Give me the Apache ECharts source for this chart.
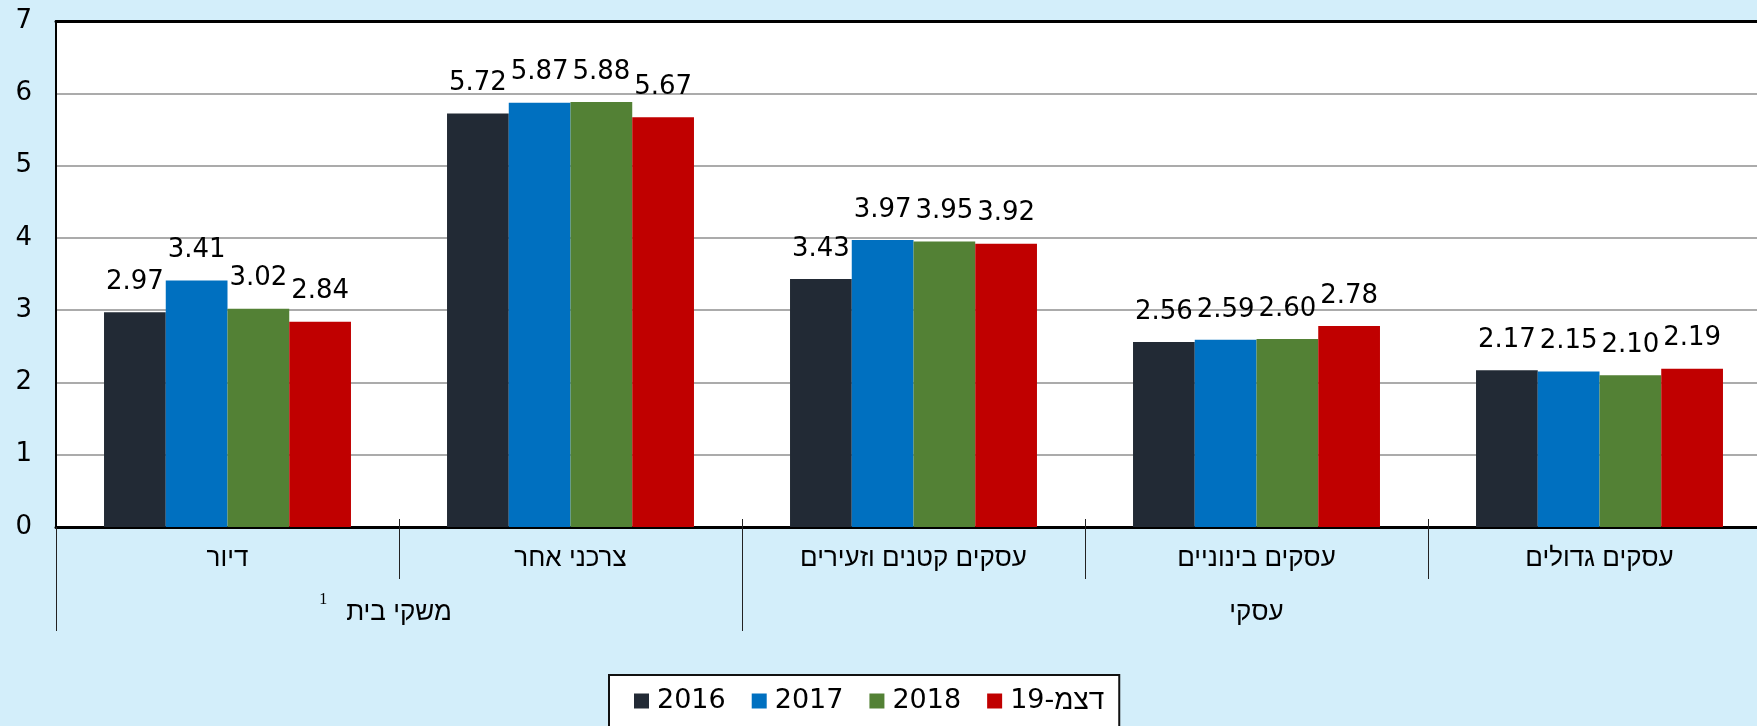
<!DOCTYPE html>
<html>
<head>
<meta charset="utf-8">
<script src="https://cdn.jsdelivr.net/npm/echarts@6/dist/echarts.min.js"></script>
<style>
  html, body { margin: 0; padding: 0; background: #d3eefa; }
  #chart { width: 1757px; height: 726px; }
</style>
</head>
<body>
<div id="chart"></div>
<script>
// ---- data ----
const categories = ['דיור', 'צרכני אחר', 'עסקים קטנים וזעירים', 'עסקים בינוניים', 'עסקים גדולים'];
const groupLabels = ['משקי בית', 'עסקי'];
const yTicks = [0, 1, 2, 3, 4, 5, 6, 7];
const seriesNames = ['2016', '2017', '2018', '19-דצמ'];
const values2016 = [2.97, 5.72, 3.43, 2.56, 2.17];
const values2017 = [3.41, 5.87, 3.97, 2.59, 2.15];
const values2018 = [3.02, 5.88, 3.95, 2.60, 2.10];
const valuesDec19 = [2.84, 5.67, 3.92, 2.78, 2.19];
const colors = ['#222a35', '#0070c0', '#538135', '#c00000'];

const allValues = [values2016, values2017, values2018, valuesDec19];
const numFont = 'DejaVu Sans';
const hebFont = 'Liberation Sans';

const chart = echarts.init(document.getElementById('chart'), null, { renderer: 'canvas' });

const series = seriesNames.map((name, i) => ({
  name: name,
  type: 'bar',
  xAxisIndex: 0,
  yAxisIndex: 0,
  data: allValues[i],
  barGap: '0%',
  barCategoryGap: '28%',
  itemStyle: { color: colors[i] },
  label: {
    show: true,
    position: 'top',
    distance: 17,
    formatter: p => p.value.toFixed(2),
    fontFamily: numFont,
    fontSize: 26,
    color: '#000'
  },
  emphasis: { disabled: true },
  silent: true
}));

const option = {
  backgroundColor: '#d3eefa',
  animation: false,
  grid: {
    left: 56, width: 1715, top: 21, bottom: 199,
    outerBoundsMode: 'none',
    containLabel: false,
    show: true, backgroundColor: '#ffffff', borderWidth: 0
  },
  legend: {
    data: seriesNames,
    left: 609,
    top: 675,
    orient: 'horizontal',
    backgroundColor: '#ffffff',
    borderColor: '#111',
    borderWidth: 2,
    padding: [12, 15, 30, 25],
    itemWidth: 15,
    itemHeight: 15,
    itemGap: 26,
    icon: 'rect',
    selectedMode: false,
    formatter: name => name === '19-דצמ' ? '{d|19-}{h|דצמ}' : '{d|' + name + '}',
    textStyle: {
      color: '#000',
      padding: [0, 0, 0, 3],
      rich: {
        d: { fontFamily: numFont, fontSize: 27, color: '#000' },
        h: { fontFamily: hebFont, fontSize: 28, color: '#000' }
      }
    }
  },
  xAxis: [
    {
      type: 'category',
      data: categories,
      position: 'bottom',
      axisLine: { show: true, lineStyle: { color: '#000', width: 3 } },
      axisTick: { show: true, length: 52, lineStyle: { color: '#222', width: 1 } },
      axisLabel: { margin: 19, fontFamily: hebFont, fontSize: 26, color: '#000' },
      splitLine: { show: false }
    },
    {
      type: 'value',
      min: 0, max: 5,
      position: 'bottom',
      axisLine: { show: false },
      axisTick: { show: true, length: 104, customValues: [0, 2, 5], lineStyle: { color: '#222', width: 1 } },
      axisLabel: {
        show: true,
        customValues: [1, 3.5],
        margin: 65,
        formatter: v => v === 1 ? '{sup|1}{g|' + groupLabels[0] + '}' : '{g2|' + groupLabels[1] + '}',
        rich: {
          sup: { fontFamily: 'Liberation Serif', fontSize: 16, lineHeight: 15, verticalAlign: 'top', color: '#000', padding: [0, 19, 0, 0] },
          g: { fontFamily: hebFont, fontSize: 26, lineHeight: 42, color: '#000', padding: [0, 27, 0, 0] },
          g2: { fontFamily: hebFont, fontSize: 26, lineHeight: 42, color: '#000' }
        }
      },
      splitLine: { show: false }
    },
    {
      type: 'value',
      min: 0, max: 5,
      position: 'bottom',
      axisLine: { show: false },
      axisTick: { show: true, inside: true, length: 8, customValues: [1, 2, 3, 4], lineStyle: { color: '#222', width: 1 } },
      axisLabel: { show: false },
      splitLine: { show: false }
    },
    {
      type: 'value',
      min: 0, max: 5,
      position: 'top',
      axisLine: { show: true, lineStyle: { color: '#000', width: 3 } },
      axisTick: { show: false },
      axisLabel: { show: false },
      splitLine: { show: false }
    }
  ],
  yAxis: {
    type: 'value',
    min: yTicks[0],
    max: yTicks[yTicks.length - 1],
    interval: 1,
    axisLine: { show: true, lineStyle: { color: '#000', width: 2 } },
    axisTick: { show: false },
    axisLabel: { margin: 24, fontFamily: numFont, fontSize: 26, color: '#000' },
    splitLine: { show: true, lineStyle: { color: '#8f8f8f', width: 1.5 } }
  },
  series: series
};

chart.setOption(option);
</script>
</body>
</html>
